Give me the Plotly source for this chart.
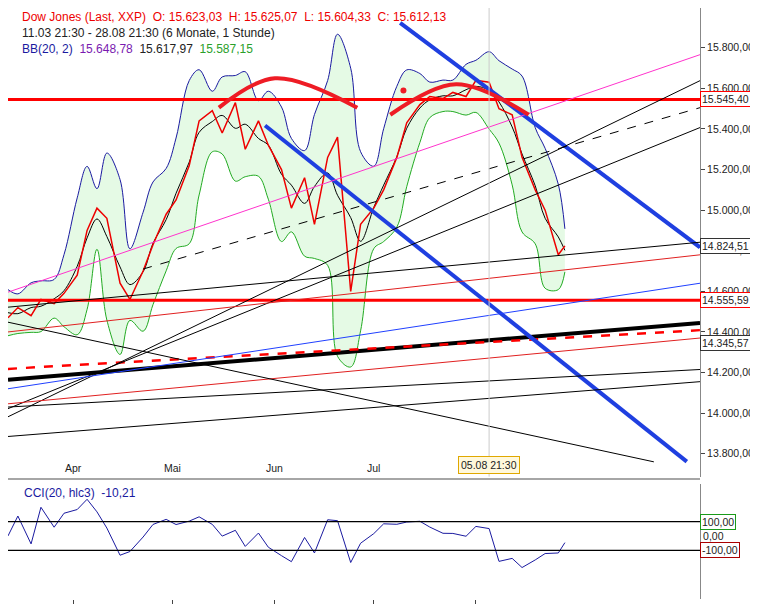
import plotly.graph_objects as go
import pandas as pd
import numpy as np

# price closes (roughly every few days)
dates = pd.to_datetime([
    "2013-03-12", "2013-03-15", "2013-03-19", "2013-03-22", "2013-03-26", "2013-03-29",
    "2013-04-02", "2013-04-05", "2013-04-08", "2013-04-11", "2013-04-15", "2013-04-18",
    "2013-04-22", "2013-04-25", "2013-04-29", "2013-05-02", "2013-05-06", "2013-05-09",
    "2013-05-13", "2013-05-16", "2013-05-20", "2013-05-23", "2013-05-27", "2013-05-30",
    "2013-06-03", "2013-06-06", "2013-06-10", "2013-06-13", "2013-06-17", "2013-06-20",
    "2013-06-24", "2013-06-27", "2013-07-01", "2013-07-04", "2013-07-08", "2013-07-11",
    "2013-07-15", "2013-07-18", "2013-07-22", "2013-07-25", "2013-07-29", "2013-08-01",
    "2013-08-05", "2013-08-08", "2013-08-12", "2013-08-15", "2013-08-19", "2013-08-22",
    "2013-08-26", "2013-08-28",
])
close = [
    14470, 14520, 14480, 14560, 14540, 14590,
    14680, 14900, 15010, 14960, 14640, 14560,
    14700, 14830, 14980, 15050, 15220, 15440,
    15490, 15380, 15530, 15300, 15440, 15320,
    15200, 15010, 15160, 14930, 15260, 15360,
    14600, 14930, 15010, 15100, 15260, 15430,
    15520, 15560, 15550, 15580, 15560, 15640,
    15630, 15500, 15470, 15260, 15100, 15000,
    14780, 14824,
]

# drawn trend lines: (start date, start value, end date, end value, colour, width, dash)
t0, t1 = "2013-03-12", "2013-10-08"
lines = [
    (t0, 15545.40, t1, 15545.40, "#ff0000", 3, "solid"),
    (t0, 14555.59, t1, 14555.59, "#ff0000", 3, "solid"),
    (t0, 14164, t1, 14444, "#000000", 4, "solid"),
    (t0, 14218, t1, 14409, "#ff0000", 2.5, "dash"),
    ("2013-05-29", 15417, "2013-10-04", 13761, "#1f3fe0", 4, "solid"),
    ("2013-07-09", 15923, t1, 14817, "#1f3fe0", 4, "solid"),
    (t0, 14596, t1, 15766, "#ff33cc", 1, "solid"),
    (t0, 13982, t1, 15638, "#000000", 1, "solid"),
    (t0, 14022, t1, 15407, "#000000", 1, "solid"),
    ("2013-04-22", 14710, t1, 15505, "#000000", 1, "dash"),
    (t0, 14522, t1, 14842, "#000000", 1, "solid"),
    (t0, 14400, t1, 14780, "#e02020", 1, "solid"),
    (t0, 14046, t1, 14370, "#e02020", 1, "solid"),
    (t0, 14120, t1, 14640, "#2040ff", 1, "solid"),
    (t0, 14448, "2013-09-24", 13760, "#000000", 1, "solid"),
    (t0, 13885, t1, 14155, "#000000", 1, "solid"),
    (t0, 14030, t1, 14215, "#000000", 1, "solid"),
]
arc1_d = ["2013-05-15", "2013-06-01", "2013-06-26"]
arc1_v = [15505, 15650, 15505]
arc2_d = ["2013-07-06", "2013-07-26", "2013-08-17"]
arc2_v = [15470, 15620, 15470]

s = pd.Series(close, index=dates)
mid = s.rolling(3, min_periods=1, center=True).mean()
sd = s.rolling(3, min_periods=1, center=True).std().fillna(30) * 0.9 + 25
upper = mid + 2 * sd
lower = mid - 2 * sd
dev = s - s.rolling(4, min_periods=1).mean()
cci = (dev / (0.012 * dev.abs().rolling(6, min_periods=1).mean().clip(lower=15))).clip(-380, 320)

fig = go.Figure()
fig.add_trace(go.Scatter(x=dates, y=lower, line=dict(color="#22aa22", width=1, shape="spline")))
fig.add_trace(go.Scatter(x=dates, y=upper, line=dict(color="#1a1aa0", width=1, shape="spline"),
                         fill="tonexty", fillcolor="rgba(180,240,180,0.35)"))
fig.add_trace(go.Scatter(x=dates, y=mid, line=dict(color="#000000", width=1, shape="spline")))
fig.add_trace(go.Scatter(x=dates, y=s, line=dict(color="#ee0000", width=1.5)))

for d0, v0, d1, v1, c, w, dash in lines:
    fig.add_trace(go.Scatter(x=[d0, d1], y=[v0, v1], mode="lines",
                             line=dict(color=c, width=w, dash=dash)))
for ad, av in [(arc1_d, arc1_v), (arc2_d, arc2_v)]:
    fig.add_trace(go.Scatter(x=ad, y=av, mode="lines",
                             line=dict(color="#ee1c25", width=4, shape="spline")))
fig.add_trace(go.Scatter(x=["2013-07-10"], y=[15590], mode="markers",
                         marker=dict(color="#ee1c25", size=6)))

# CCI panel
fig.add_trace(go.Scatter(x=dates, y=cci, yaxis="y2", line=dict(color="#1a1aa0", width=1)))
for lv in [100, -100]:
    fig.add_trace(go.Scatter(x=[t0, t1], y=[lv, lv], yaxis="y2", mode="lines",
                             line=dict(color="#000000", width=1.2)))

fig.update_traces(hoverinfo="skip")
fig.add_vline(x="2013-08-05", line=dict(color="#cccccc", width=1))

ticks = list(range(13800, 16000, 200))
fig.update_layout(
    width=758, height=613, showlegend=False, separators=",.",
    margin=dict(l=0, r=66, t=0, b=22),
    plot_bgcolor="white", paper_bgcolor="white",
    font=dict(family="Liberation Sans, Arial", size=10.5, color="#222"),
    xaxis=dict(range=["2013-03-12", "2013-10-08"], showgrid=False, anchor="y2",
               tickvals=pd.to_datetime(["2013-04-01", "2013-05-01", "2013-06-01", "2013-07-01", "2013-08-01"]),
               ticktext=["", "", "", "", ""], ticks="outside", ticklen=4, showline=False),
    yaxis=dict(domain=[0.207, 1], range=[13687, 15996], side="right", tickvals=ticks,
               tickformat=",.2f", showgrid=False, ticks="outside", ticklen=4,
               showline=True, linecolor="#888"),
    yaxis2=dict(domain=[0.0, 0.194], range=[-440, 360], side="right", tickvals=[0],
                tickformat=",.2f", showgrid=False, showline=True, linecolor="#888",
                zeroline=False),
)
fig.add_shape(type="line", xref="paper", yref="paper", x0=0, x1=1, y0=0.203, y1=0.203,
              line=dict(color="#888", width=1.5))
for m, d in zip(["Apr", "Mai", "Jun", "Jul", "Aug"],
                ["2013-04-01", "2013-05-01", "2013-06-01", "2013-07-01", "2013-08-01"]):
    fig.add_annotation(x=d, y=13687, yref="y", text=m, showarrow=False, yshift=1, yanchor="bottom")

fig.add_annotation(x="2013-08-05", y=13687, yref="y", text="05.08 21:30", showarrow=False,
                   yshift=3, yanchor="bottom", bgcolor="#fff8dc", bordercolor="#e0a800", borderpad=2)

for val, col in [(15545.40, "#ff0000"), (14824.51, "#333"), (14555.59, "#ff0000"), (14345.57, "#333")]:
    fig.add_annotation(x=1, xref="paper", y=val, yref="y", text=f"{val:,.2f}".replace(",", "X").replace(".", ",").replace("X", "."),
                       showarrow=False, xanchor="left", bgcolor="white", bordercolor=col, borderpad=1)
for val, col, txt in [(100, "#1a9a1a", "100,00"), (-100, "#aa0000", "-100,00")]:
    fig.add_annotation(x=1, xref="paper", y=val, yref="y2", text=txt, showarrow=False,
                       xanchor="left", bgcolor="white", bordercolor=col, borderpad=1)

hdr = [
    (1.0, "<span style='color:#e00'>Dow Jones (Last, XXP)  O: 15.623,03  H: 15.625,07  L: 15.604,33  C: 15.612,13</span>"),
    (0.973, "11.03 21:30 - 28.08 21:30 (6 Monate, 1 Stunde)"),
    (0.946, "<span style='color:#1a1aa0'>BB(20, 2)</span>  <span style='color:#7a1ab0'>15.648,78</span>  15.617,97  <span style='color:#2aa02a'>15.587,15</span>"),
]
for y, t in hdr:
    fig.add_annotation(x=0.018, xref="paper", y=y, yref="paper", text=t, showarrow=False,
                       xanchor="left", yanchor="top", font=dict(size=12))
fig.add_annotation(x=0.02, xref="paper", y=0.195, yref="paper", text="<span style='color:#1a1aa0'>CCI(20, hlc3)  -10,21</span>",
                   showarrow=False, xanchor="left", yanchor="top", font=dict(size=12))

fig.write_html("out.html")
